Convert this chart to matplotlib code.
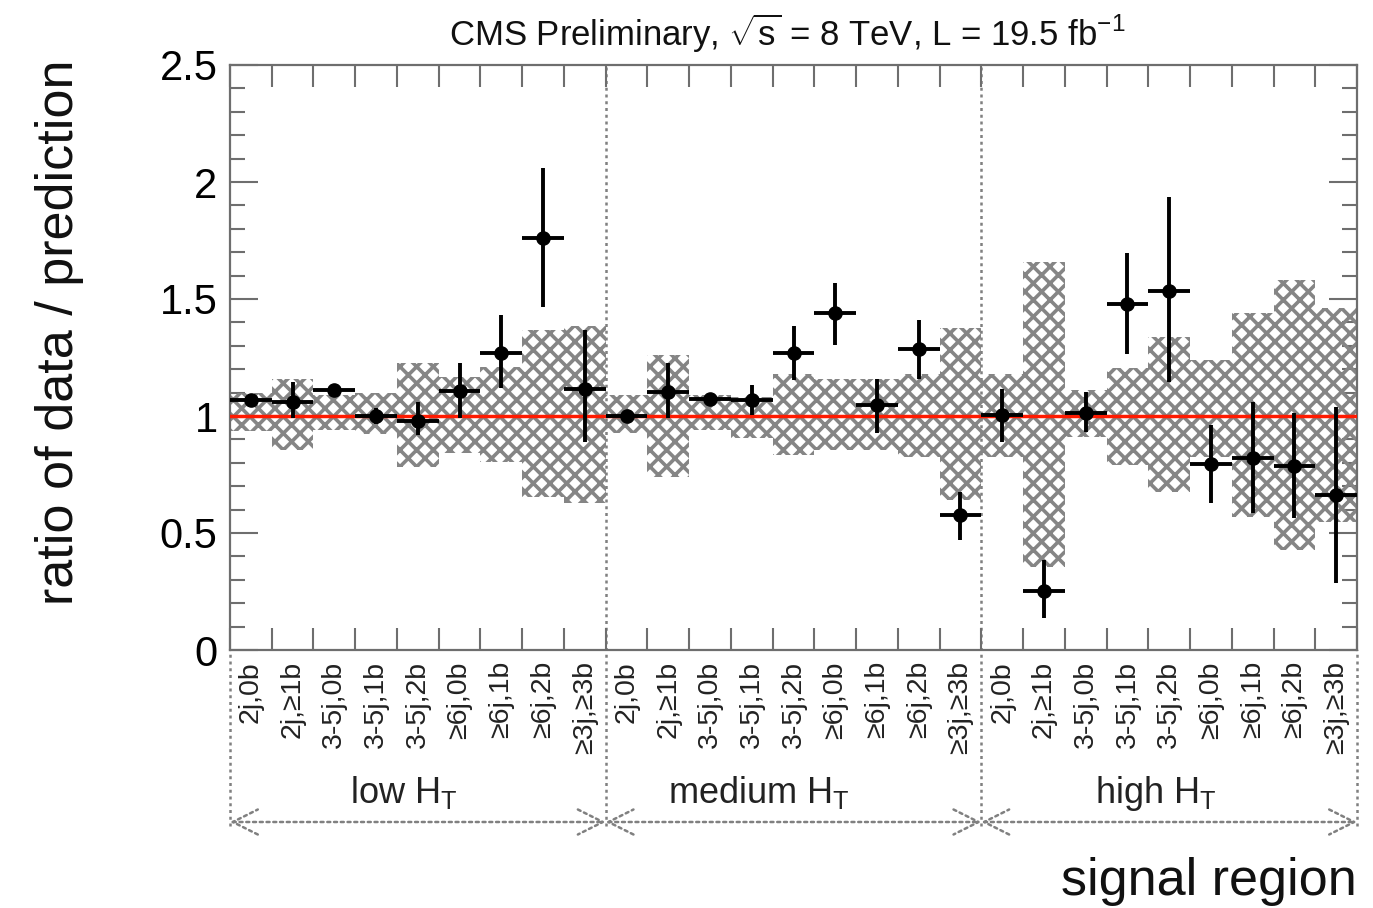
import matplotlib
matplotlib.use("Agg")
import matplotlib.pyplot as plt
import numpy as np

plt.rcParams['font.family'] = ['Liberation Sans', 'DejaVu Sans']
plt.rcParams['mathtext.fontset'] = 'custom'
plt.rcParams['mathtext.rm'] = 'Liberation Sans'
plt.rcParams['mathtext.it'] = 'Liberation Sans:italic'
plt.rcParams['mathtext.bf'] = 'Liberation Sans:bold'
plt.rcParams['hatch.linewidth'] = 2.6

# ---------------- data ----------------
bin_labels = ["2j,0b", "2j,\u22651b", "3-5j,0b", "3-5j,1b", "3-5j,2b",
              "\u22656j,0b", "\u22656j,1b", "\u22656j,2b", "\u22653j,\u22653b"] * 3
groups = ["low H$_\\mathrm{T}$", "medium H$_\\mathrm{T}$", "high H$_\\mathrm{T}$"]

ratio = [1.068, 1.061, 1.111, 1.000, 0.980, 1.107, 1.268, 1.760, 1.115,
         1.001, 1.104, 1.073, 1.068, 1.270, 1.440, 1.047, 1.286, 0.577,
         1.004, 0.253, 1.014, 1.479, 1.536, 0.795, 0.820, 0.786, 0.662]
err_hi = [0.025, 0.086, 0.020, 0.035, 0.080, 0.121, 0.162, 0.300, 0.252,
          0.025, 0.122, 0.020, 0.064, 0.115, 0.128, 0.113, 0.124, 0.100,
          0.111, 0.132, 0.090, 0.218, 0.400, 0.167, 0.241, 0.227, 0.378]
err_lo = [0.025, 0.071, 0.020, 0.035, 0.060, 0.117, 0.148, 0.293, 0.225,
          0.025, 0.114, 0.020, 0.064, 0.116, 0.137, 0.120, 0.126, 0.107,
          0.114, 0.117, 0.081, 0.214, 0.389, 0.167, 0.235, 0.222, 0.376]
band_hi = [1.098, 1.160, 1.090, 1.100, 1.226, 1.168, 1.210, 1.367, 1.385,
           1.090, 1.260, 1.090, 1.083, 1.180, 1.160, 1.160, 1.180, 1.376,
           1.180, 1.660, 1.111, 1.205, 1.339, 1.239, 1.440, 1.581, 1.460]
band_lo = [0.935, 0.855, 0.940, 0.925, 0.783, 0.840, 0.805, 0.655, 0.628,
           0.927, 0.740, 0.940, 0.906, 0.833, 0.855, 0.855, 0.826, 0.641,
           0.826, 0.356, 0.912, 0.790, 0.677, 0.826, 0.570, 0.427, 0.548]

nbins = len(ratio)
centers = np.arange(nbins) + 0.5
edges = np.arange(nbins + 1)
group_bounds = [0, 9, 18, 27]
group_label_x = [4.17, 12.67, 22.17]

# ---------------- figure ----------------
W, H = 1373, 908
fig = plt.figure(figsize=(W / 100, H / 100), dpi=100)
ax_l, ax_r, ax_t, ax_b = 230, 1357, 65, 650
ax = fig.add_axes([ax_l / W, 1 - ax_b / H, (ax_r - ax_l) / W, (ax_b - ax_t) / H])

frame_c = '#6e6e6e'
grey = '#808080'

# uncertainty band
ax.bar(centers, np.array(band_hi) - np.array(band_lo), bottom=band_lo, width=1.0,
       color='none', edgecolor='#858585', linewidth=0, hatch='xx', zorder=2)

# reference line
ax.axhline(1.0, color='#ff1a00', lw=2.5, zorder=3)

# data points
ax.errorbar(centers, ratio, yerr=[err_lo, err_hi], xerr=0.5, fmt='o', color='black',
            ms=9.5, elinewidth=2.8, capsize=0, zorder=4)

ax.set_xlim(0, nbins)
ax.set_ylim(0, 2.5)

# ticks
ax.set_yticks(np.arange(0, 2.51, 0.5))
ax.set_yticklabels(["0", "0.5", "1", "1.5", "2", "2.5"])
ax.set_yticks(np.arange(0, 2.51, 0.1), minor=True)
ax.set_xticks(edges)
ax.set_xticklabels([])
ax.set_xticks(centers, minor=True)
ax.set_xticklabels(bin_labels, minor=True, rotation=90, fontsize=20.5, color='#222222')

ax.tick_params(axis='y', which='major', direction='in', length=20, width=1.5,
               color=frame_c, left=True, right=True, labelsize=30, pad=9)
ax.tick_params(axis='y', which='minor', direction='in', length=11, width=1.5,
               color=frame_c, left=True, right=True)
ax.tick_params(axis='x', which='major', direction='in', length=16, width=1.5,
               color=frame_c, top=True, bottom=True)
ax.tick_params(axis='x', which='minor', length=0, top=False, bottom=True, pad=8)

for s in ax.spines.values():
    s.set_color(frame_c)
    s.set_linewidth(1.6)

trans = ax.get_xaxis_transform()
y_low = (ax_b - 826) / (ax_b - ax_t)
y_arrow = (ax_b - 822) / (ax_b - ax_t)
y_group = (ax_b - 803) / (ax_b - ax_t)
dot = (0, (1.2, 1.5))

# dotted separators
for xb in group_bounds:
    ytop = 1.0 if xb not in (0, nbins) else 0.0
    ax.plot([xb, xb], [y_low, ytop], transform=trans, clip_on=False,
            color=grey, lw=1.8, linestyle=dot, zorder=1)

# group arrows and labels
for i in range(3):
    x0, x1 = group_bounds[i], group_bounds[i + 1]
    ax.annotate('', xy=(x1, y_arrow), xytext=(x0, y_arrow), xycoords=trans,
                textcoords=trans,
                arrowprops=dict(arrowstyle='<->,head_length=1.8,head_width=0.9',
                                linestyle=dot, color=grey, lw=1.8,
                                shrinkA=0, shrinkB=0, mutation_scale=10),
                annotation_clip=False)
    ax.text(group_label_x[i], y_group, groups[i], transform=trans, ha='center',
            va='baseline', fontsize=26, color='#222222')

# axis titles
ax.text(1.0, (ax_b - 895) / (ax_b - ax_t), "signal region", transform=ax.transAxes,
        ha='right', va='baseline', fontsize=37.5, color='#111111')
fig.text(60 / W, 1 - 332 / H, "ratio of data / prediction", rotation=90,
         ha='center', va='center', fontsize=37.5, color='#111111')

fig.text(787 / W, 1 - 33 / H,
         "CMS Preliminary, $\\sqrt{\\mathrm{s}}$ = 8 TeV, L = 19.5 fb$^{-1}$",
         ha='center', va='center', fontsize=25, color='#111111')

fig.savefig("out.png", dpi=100)
